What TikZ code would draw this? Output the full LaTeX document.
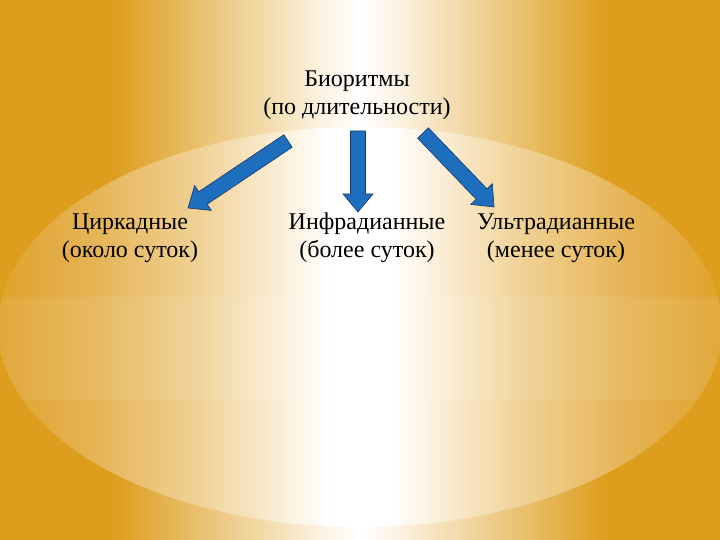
\documentclass[tikz,border=0pt]{standalone}
\usepackage{fontspec}
\setmainfont{Liberation Serif}
\usetikzlibrary{calc}
\definecolor{gold}{RGB}{221,158,30}
\definecolor{ovedge}{RGB}{223,162,42}
\definecolor{ovmidA}{RGB}{230,181,88}
\definecolor{ovmidB}{RGB}{240,209,148}
\definecolor{ovmidC}{RGB}{250,236,210}
\definecolor{arrowblue}{RGB}{30,110,190}
\definecolor{arrowline}{RGB}{25,55,105}
\pgfdeclarehorizontalshading{backshade}{100bp}{color(0bp)=(gold); color(33bp)=(gold); color(42bp)=(gold!45!white); color(47.5bp)=(gold!12!white); color(50bp)=(white); color(52.5bp)=(gold!12!white); color(58bp)=(gold!45!white); color(67bp)=(gold); color(100bp)=(gold)}
\pgfdeclarehorizontalshading{ovalshade}{100bp}{color(0bp)=(ovedge); color(25bp)=(ovedge); color(32bp)=(ovmidA); color(38.7bp)=(ovmidB); color(44bp)=(ovmidC); color(48bp)=(white); color(52bp)=(white); color(56bp)=(ovmidC); color(61.3bp)=(ovmidB); color(68bp)=(ovmidA); color(75bp)=(ovedge); color(100bp)=(ovedge)}
\newcommand\fatarrow[2]{%
  \coordinate (hb) at ($(#2)!18pt!(#1)$);
  \draw[fat] ($(#1)!7.5pt!90:(#2)$) -- ($(hb)!7.5pt!90:(#2)$) -- ($(hb)!15pt!90:(#2)$)
    -- (#2) -- ($(hb)!15pt!-90:(#2)$) -- ($(hb)!7.5pt!-90:(#2)$) -- ($(#1)!7.5pt!-90:(#2)$) -- cycle;
}
\begin{document}
\begin{tikzpicture}[x=1pt,y=-1pt,
    lbl/.style={font=\fontsize{24}{28.5}\selectfont, align=center, inner sep=0pt},
    fat/.style={fill=arrowblue, draw=arrowline, line width=.6pt, line join=miter}]
    \useasboundingbox (0,0) rectangle (720,540);
    \shade[shading=backshade] (0,0) rectangle (720,540);
    \shade[shading=ovalshade] (360,327) ellipse [x radius=362, y radius=200];
    \begin{scope}
      \clip (360,327) ellipse [x radius=362, y radius=200];
      \fill[white,opacity=.08] (0,297) rectangle (720,400);
    \end{scope}

    \node[lbl, anchor=base] (title) at (357,115) {Биоритмы\\(по длительности)};
    \node[lbl, anchor=base] (circ) at (130,258) {Циркадные\\(около суток)};
    \node[lbl, anchor=base] (infra) at (367,258) {Инфрадианные\\(более суток)};
    \node[lbl, anchor=base] (ultra) at (556,258) {Ультрадианные\\(менее суток)};

    \coordinate (circ-from) at (288,141);
    \coordinate (circ-to) at (188,208);
    \coordinate (infra-from) at (358,131);
    \coordinate (infra-to) at (358,212);
    \coordinate (ultra-from) at (423,133);
    \coordinate (ultra-to) at (494,207);
    \fatarrow{circ-from}{circ-to}
    \fatarrow{infra-from}{infra-to}
    \fatarrow{ultra-from}{ultra-to}
\end{tikzpicture}
\end{document}
